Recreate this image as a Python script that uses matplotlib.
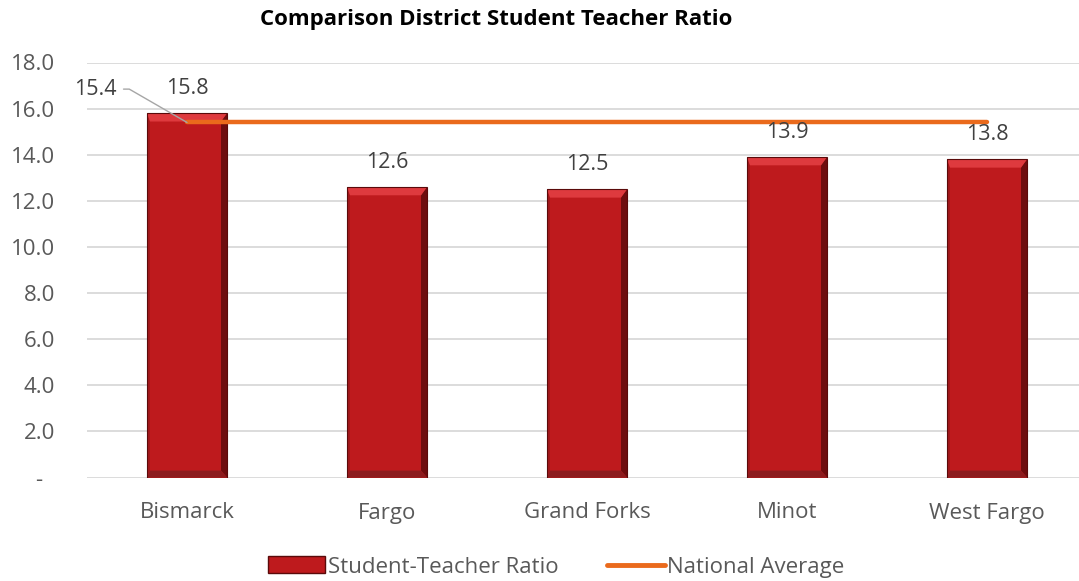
import matplotlib
matplotlib.use("Agg")
import matplotlib.pyplot as plt
from matplotlib.patches import Polygon, Patch
from matplotlib.lines import Line2D

districts = ["Bismarck", "Fargo", "Grand Forks", "Minot", "West Fargo"]
ratios = [15.8, 12.6, 12.5, 13.9, 13.8]
national_avg = 15.4
y_ticks = [0, 2, 4, 6, 8, 10, 12, 14, 16, 18]
y_tick_labels = ["-  "] + [f"{v:.1f}" for v in y_ticks[1:]]

BAR = "#be1a1d"
ORANGE = "#ea6a1c"
TXT = "#595959"
plt.rcParams["font.family"] = ["Open Sans", "DejaVu Sans"]

fig = plt.figure(figsize=(10.79, 5.81), dpi=100)
ax = fig.add_axes([87 / 1079, 1 - 477.5 / 581, 1000 / 1079, 415 / 581])

x = list(range(len(districts)))
bars = ax.bar(x, ratios, width=0.4, color=BAR, zorder=3)

# fake bevel on each bar, built from the bar geometry
bl, br, bt, bb = 0.015, 0.03, 0.36, 0.3
for b in bars:
    x0, y0 = b.get_x(), b.get_y()
    x1, y1 = x0 + b.get_width(), y0 + b.get_height()
    faces = [
        ([(x0, y0), (x0, y1), (x0 + bl, y1 - bt), (x0 + bl, y0 + bb)], "#a3171a"),
        ([(x1, y0), (x1, y1), (x1 - br, y1 - bt), (x1 - br, y0 + bb)], "#6e0d0f"),
        ([(x0, y1), (x1, y1), (x1 - br, y1 - bt), (x0 + bl, y1 - bt)], "#de3a3e"),
        ([(x0, y0), (x1, y0), (x1 - br, y0 + bb), (x0 + bl, y0 + bb)], "#8c1c1e"),
    ]
    for pts, c in faces:
        ax.add_patch(Polygon(pts, closed=True, color=c, lw=0, zorder=4))
    ax.add_patch(Polygon([(x0, y0), (x0, y1), (x1, y1), (x1, y0)], closed=True,
                         fill=False, edgecolor="#5a0a0a", lw=0.8, zorder=4))
    ax.annotate(f"{b.get_height():.1f}", (b.get_x() + b.get_width() / 2, y1),
                xytext=(0, 18), textcoords="offset points", ha="center",
                va="center", fontsize=15.5, color="#404040", zorder=6)

ax.plot([x[0], x[-1]], [national_avg, national_avg], color=ORANGE, lw=3.2,
        solid_capstyle="round", zorder=5)
ax.annotate(f"{national_avg:.1f}", (x[0], national_avg), xytext=(-66, 24),
            textcoords="offset points", ha="center", va="center", fontsize=15.5,
            color="#404040", zorder=6,
            arrowprops=dict(arrowstyle="-", color="#a6a6a6", lw=1,
                            connectionstyle="angle,angleA=0,angleB=150,rad=0",
                            shrinkA=3, shrinkB=0))

ax.set_xlim(-0.5, len(districts) - 0.5)
ax.set_ylim(0, 18)
ax.set_yticks(y_ticks)
ax.set_yticklabels(y_tick_labels)
ax.set_xticks(x)
ax.set_xticklabels(districts)
ax.tick_params(axis="both", length=0, labelsize=16, colors=TXT)
ax.tick_params(axis="y", pad=23)
ax.tick_params(axis="x", pad=18)
ax.grid(axis="y", color="#d9d9d9", lw=1.3, zorder=0)
for s in ax.spines.values():
    s.set_visible(False)

fig.text(496 / 1079, 1 - 19 / 581, "Comparison District Student Teacher Ratio",
         ha="center", va="center", fontsize=16, fontweight="bold", color="black")

handles = [Patch(facecolor=BAR, edgecolor="#5a0a0a", lw=1),
           Line2D([], [], color=ORANGE, lw=3.5, solid_capstyle="round")]
fig.legend(handles, ["Student-Teacher Ratio", "National Average"],
           loc="center", bbox_to_anchor=(556 / 1079, 1 - 567 / 581), ncol=2,
           frameon=False, fontsize=16, labelcolor=TXT, handlelength=2.6,
           handleheight=0.8, handletextpad=0.1, columnspacing=2.2)

fig.savefig("out.png", dpi=100)
